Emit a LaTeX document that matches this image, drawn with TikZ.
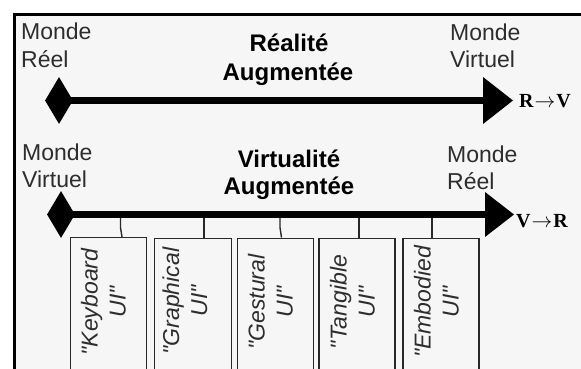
\documentclass[tikz,border=0pt]{standalone}
\usepackage{fontspec}
\setmainfont{Liberation Sans}[Ligatures=TeXOff]
\newfontfamily\serifbold{Liberation Serif}
\usetikzlibrary{shapes.geometric}
\definecolor{bgcol}{RGB}{246,246,246}
\definecolor{boxline}{RGB}{40,40,40}
\definecolor{txtgray}{RGB}{45,45,45}
\begin{document}
\begin{tikzpicture}[x=1pt,y=-1pt,
  lbl/.style={inner sep=0pt, anchor=base west, text=txtgray, font=\fontsize{23}{27}\selectfont},
  ttl/.style={inner sep=0pt, anchor=base, font=\fontsize{24}{27}\selectfont\bfseries},
  dirlbl/.style={inner sep=0pt, anchor=base west, font=\fontsize{20}{24}\selectfont\serifbold\bfseries},
  dia/.style={diamond, fill=black, inner sep=0pt, minimum width=28pt, minimum height=47pt},
  axisline/.style={line width=7pt},
  uibox/.style={draw=boxline, line width=1.4pt, minimum width=76pt, minimum height=160pt, anchor=north, inner sep=0pt},
  uitxt/.style={rotate=90, align=center, inner sep=0pt, text=txtgray, font=\fontsize{23}{28}\selectfont\itshape},
  conn/.style={draw=boxline, line width=1.4pt}]
\clip (0,0) rectangle (581,369);
% frame
\draw[line width=3pt, fill=bgcol] (14.5,14.5) rectangle (620,420);

% ---- Realite augmentee
\node[lbl] (mA1) at (21,40) {Monde};
\node[lbl] (mA2) at (21,67) {Réel};
\node[lbl] (mB1) at (450,41) {Monde};
\node[lbl] (mB2) at (450,68) {Virtuel};
\node[ttl] (tA1) at (289,52) {Réalité};
\node[ttl] (tA2) at (288,81) {Augmentée};
\node[dia] (diaA) at (59,100.5) {};
\coordinate (headA) at (483,100.5);
\draw[axisline] (diaA.center) -- (headA);
\fill (headA) ++(0,-23.5) -- ++(30,23.5) -- ++(-30,23.5) -- cycle;
\node[dirlbl] (rv) at (519,107) {R\kern1pt$\rightarrow$\kern1ptV};

% ---- Virtualite augmentee
\node[lbl] (mC1) at (22,160) {Monde};
\node[lbl] (mC2) at (22,187) {Virtuel};
\node[lbl] (mD1) at (447,162) {Monde};
\node[lbl] (mD2) at (447,189) {Réel};
\node[ttl] (tB1) at (289,167) {Virtualité};
\node[ttl] (tB2) at (289,194) {Augmentée};
\node[dia] (diaB) at (61,214.5) {};
\coordinate (headB) at (485,214.5);
\draw[axisline] (diaB.center) -- (headB);
\fill (61,210.5) rectangle (97,214);
\fill (headB) ++(0,-22.5) -- ++(29,22.5) -- ++(-29,22.5) -- cycle;
\node[dirlbl] (vr) at (516,227) {V\kern1pt$\rightarrow$\kern1ptR};

% ---- UI boxes
\node[uibox] (b1) at (108.5,237) {};
\node[uibox, minimum width=77pt] (b2) at (193,237.5) {};
\node[uibox] (b3) at (275.5,237.5) {};
\node[uibox] (b4) at (357,237.5) {};
\node[uibox] (b5) at (441,237.5) {};

\node[uitxt] (t1) at (103.5,302) {"Keyboard\\UI"};
\node[uitxt] (t2) at (185,301) {"Graphical\\UI"};
\node[uitxt] (t3) at (270.5,302) {"Gestural\\UI"};
\node[uitxt] (t4) at (352.5,302) {"Tangible\\UI"};
\node[uitxt] (t5) at (436.5,302) {"Embodied\\UI"};

% connectors
\coordinate (j1) at (120.5,218);
\coordinate (j2) at (204,218);
\coordinate (j3) at (280,218);
\coordinate (j4) at (359,218);
\coordinate (j5) at (432,218);
\draw[conn] (j1) -- ++(0,9.5) -- ([xshift=1.5pt]j1 |- b1.north);
\draw[conn] (j2) -- (j2 |- b2.north);
\draw[conn] (j3) -- ++(0,9.5) -- ([xshift=1.5pt]j3 |- b3.north);
\draw[conn] (j4) -- (j4 |- b4.north);
\draw[conn] (j5) -- (j5 |- b5.north);
\end{tikzpicture}
\end{document}
